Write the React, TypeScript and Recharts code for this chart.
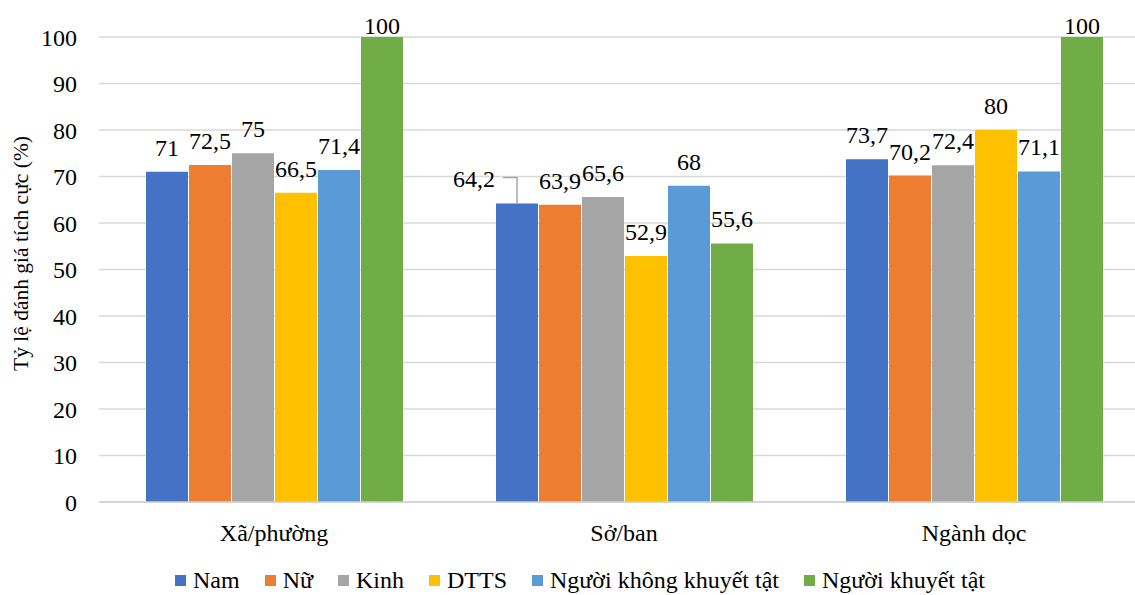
import { BarChart, Bar, XAxis, YAxis, CartesianGrid, Legend } from "recharts";

const categories = ["Xã/phường", "Sở/ban", "Ngành dọc"];
const nam = [71, 64.2, 73.7];
const nu = [72.5, 63.9, 70.2];
const kinh = [75, 65.6, 72.4];
const dtts = [66.5, 52.9, 80];
const khongKhuyetTat = [71.4, 68, 71.1];
const khuyetTat = [100, 55.6, 100];
const yTicks = [0, 10, 20, 30, 40, 50, 60, 70, 80, 90, 100];

const series = [
  { key: "nam", name: "Nam", color: "#4472C4" },
  { key: "nu", name: "Nữ", color: "#ED7D31" },
  { key: "kinh", name: "Kinh", color: "#A5A5A5" },
  { key: "dtts", name: "DTTS", color: "#FFC000" },
  { key: "kkt", name: "Người không khuyết tật", color: "#5B9BD5" },
  { key: "kt", name: "Người khuyết tật", color: "#70AD47" },
];

const data = categories.map((c, i) => ({
  category: c,
  nam: nam[i],
  nu: nu[i],
  kinh: kinh[i],
  dtts: dtts[i],
  kkt: khongKhuyetTat[i],
  kt: khuyetTat[i],
}));

const FONT = "'Liberation Serif', 'Times New Roman', serif";

const fmt = (v: number) => String(v).replace(".", ",");

// Excel puts the 64,2 label on the left with a leader line
function ValueLabel(props: any) {
  const { x, y, width, value, index, leader } = props;
  const cx = x + width / 2;
  if (leader && index === 1) {
    return (
      <g>
        <polyline
          points={`${cx - 14},${y - 26} ${cx},${y - 26} ${cx},${y}`}
          fill="none"
          stroke="#a6a6a6"
          strokeWidth={1.5}
        />
        <text x={cx - 22} y={y - 16} textAnchor="end" fontSize={24} fontFamily={FONT} fill="#000">
          {fmt(value)}
        </text>
      </g>
    );
  }
  return (
    <text x={cx} y={Math.max(y - 16, 34)} textAnchor="middle" fontSize={24} fontFamily={FONT} fill="#000">
      {fmt(value)}
    </text>
  );
}

function YTitle(props: any) {
  const { viewBox } = props;
  const cy = viewBox.y + viewBox.height / 2 - 16;
  return (
    <text
      x={21}
      y={cy}
      transform={`rotate(-90, 21, ${cy})`}
      textAnchor="middle"
      dominantBaseline="central"
      fontSize={21.5}
      fontFamily={FONT}
      fill="#000"
    >
      Tỷ lệ đánh giá tích cực (%)
    </text>
  );
}

function LegendContent() {
  return (
    <div
      style={{
        display: "flex",
        justifyContent: "center",
        gap: 25,
        height: 26,
        lineHeight: "26px",
        fontFamily: FONT,
        fontSize: 24,
        color: "#000",
        paddingLeft: 11,
      }}
    >
      {series.map((s) => (
        <div key={s.key} style={{ display: "flex", alignItems: "center", height: 26 }}>
          <span style={{ width: 11, height: 11, background: s.color, marginRight: 7, marginTop: 1, display: "inline-block" }} />
          <span style={{ whiteSpace: "nowrap" }}>{s.name}</span>
        </div>
      ))}
    </div>
  );
}

export default function App() {
  return (
    <div style={{ position: "absolute", left: 0, top: 0, width: 1135, height: 595, overflow: "hidden", background: "#fff" }}>
      <BarChart
        width={1160}
        height={595}
        data={data}
        margin={{ top: 37, right: 11, left: 0, bottom: 0 }}
        barCategoryGap={47}
        barGap={1}
      >
        <CartesianGrid vertical={false} stroke="#d9d9d9" strokeWidth={1.5} />
        <XAxis
          dataKey="category"
          height={67}
          tickLine={false}
          axisLine={{ stroke: "#d0d0d0", strokeWidth: 1.5 }}
          tickMargin={16}
          tick={{ fontSize: 24, fontFamily: FONT, fill: "#000" }}
        />
        <YAxis
          width={99}
          domain={[0, 100]}
          ticks={yTicks}
          axisLine={false}
          tickLine={false}
          tickMargin={16}
          tick={{ fontSize: 24, fontFamily: FONT, fill: "#000" }}
          label={{ content: <YTitle /> }}
        />
        <Legend
          verticalAlign="bottom"
          height={26}
          content={<LegendContent />}
          wrapperStyle={{ position: "absolute", top: 567, bottom: "auto", left: 0, width: 1149 }}
        />
        {series.map((s) => (
          <Bar
            key={s.key}
            dataKey={s.key}
            name={s.name}
            fill={s.color}
            isAnimationActive={false}
            label={(p: any) => <ValueLabel {...p} leader={s.key === "nam"} />}
          />
        ))}
      </BarChart>
    </div>
  );
}
